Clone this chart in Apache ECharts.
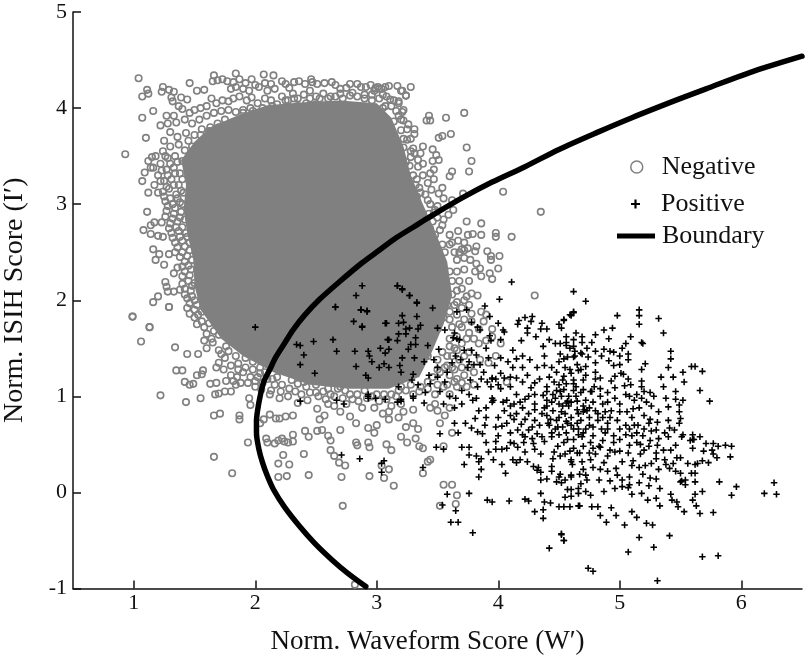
<!DOCTYPE html>
<html><head><meta charset="utf-8">
<style>html,body{margin:0;padding:0;background:#fff}#c{width:806px;height:660px}</style>
<script src="https://cdn.jsdelivr.net/npm/echarts@6/dist/echarts.min.js"></script>
</head><body><div id="c"></div>
<script>
const xTicks=[1,2,3,4,5,6];
const yTicks=[-1,0,1,2,3,4,5];
// Outline of the region where negative markers merge into solid grey
const negativeCoreOutline=[[1.55,1.9],[1.50,2.15],[1.49,2.42],[1.44,2.7],[1.41,2.94],[1.43,3.2],[1.39,3.46],[1.5,3.65],[1.63,3.8],[1.85,3.92],[2.1,4.03],[2.4,4.06],[2.7,4.08],[3.0,4.05],[3.12,3.9],[3.22,3.6],[3.28,3.3],[3.38,3.0],[3.47,2.75],[3.58,2.4],[3.62,2.05],[3.55,1.75],[3.45,1.45],[3.35,1.2],[3.1,1.08],[2.78,1.08],[2.45,1.12],[2.15,1.25],[1.9,1.42],[1.72,1.6]];
// x,y pairs, flat
const negativeFlat=[
1.04,4.31,1.11,4.19,1.12,4.15,1.07,4.12,1.16,3.97,1.07,3.90,1.10,3.69,.93,3.52,1.12,3.45,1.15,3.49,1.18,3.50,1.14,3.38,1.16,3.38,1.09,3.33,1.07,3.24,1.17,3.20,1.12,3.12,1.20,3.12,1.11,2.92,1.14,2.78,1.17,2.81,1.23,2.81,1.08,2.73,1.14,2.69,1.20,2.67,1.24,2.66,1.16,2.53,1.21,2.48,1.29,2.48,1.18,2.42,1.25,2.37,1.36,2.34,1.33,2.28,1.26,2.19,1.27,2.14,1.28,2.09,1.33,2.09,1.38,2.11,1.20,2.04,1.16,1.98,1.29,1.93,.99,1.83,1.13,1.72,
1.66,4.34,1.84,4.36,2.07,4.35,2.15,4.34,1.46,4.26,1.52,4.18,1.58,4.19,1.65,4.28,1.69,4.29,1.73,4.30,1.24,4.22,1.23,4.17,1.29,4.19,1.33,4.17,1.31,4.11,1.39,4.11,1.44,4.09,1.32,4.07,1.37,4.02,1.27,3.92,1.33,3.92,1.22,3.82,1.28,3.84,1.77,4.28,1.82,4.27,1.87,4.30,1.92,4.26,1.97,4.30,2.0,4.24,1.80,4.2,1.84,4.22,1.9,4.2,1.95,4.18,2.03,4.22,2.08,4.26,2.13,4.25,2.1,4.18,2.16,4.2,2.22,4.28,2.25,4.25,2.28,4.21,2.32,4.27,2.36,4.28,2.41,4.25,2.46,4.3,2.47,4.27,2.51,4.25,2.57,4.26,2.63,4.27,2.66,4.24,2.7,4.2,2.75,4.21,2.78,4.25,2.84,4.25,2.87,4.22,2.91,4.22,2.95,4.24,3.01,4.22,2.98,4.18,3.04,4.2,3.1,4.23,3.17,4.23,3.2,4.18,3.24,4.13,
1.4,3.99,1.46,3.95,1.5,3.98,1.55,4.0,1.6,4.02,1.64,4.1,1.68,4.05,1.73,4.08,1.78,4.07,1.82,4.1,1.87,4.12,1.93,4.08,1.97,4.11,2.02,4.05,2.08,4.1,2.13,4.08,2.18,4.04,2.22,4.12,2.27,4.08,2.31,4.15,2.35,4.1,2.4,4.14,2.45,4.18,2.5,4.12,2.56,4.15,2.6,4.1,2.66,4.12,2.72,4.1,2.78,4.13,2.84,4.12,2.9,4.1,2.96,4.08,3.02,4.1,3.08,4.12,3.14,4.08,3.18,4.05,3.22,3.98,3.18,3.92,
1.35,3.85,1.42,3.88,1.48,3.84,1.54,3.88,1.6,3.92,1.66,3.95,1.72,3.97,1.78,3.98,1.84,3.96,1.9,3.98,1.96,4.0,2.02,3.95,2.08,3.97,2.14,3.96,2.2,3.95,2.28,3.96,2.35,4.02,2.42,4.05,2.5,4.04,1.3,3.75,1.36,3.7,1.43,3.74,1.5,3.72,1.56,3.78,1.63,3.8,1.69,3.84,1.75,3.88,1.81,3.85,1.87,3.82,1.93,3.85,2.0,3.84,2.06,3.86,1.25,3.66,1.3,3.6,1.37,3.62,1.42,3.56,1.48,3.6,1.54,3.62,1.6,3.68,1.66,3.7,1.72,3.74,1.78,3.72,1.84,3.74,1.9,3.7,
1.24,3.55,1.28,3.48,1.34,3.5,1.4,3.45,1.22,3.42,1.27,3.36,1.33,3.38,1.38,3.32,1.2,3.3,1.25,3.24,1.31,3.26,1.37,3.2,1.24,3.13,1.29,3.16,1.35,3.1,1.41,3.12,1.26,3.03,1.32,3.0,1.38,3.02,1.27,2.93,1.33,2.9,1.39,2.92,1.3,2.8,1.36,2.82,1.42,2.84,1.31,2.7,1.37,2.72,1.43,2.7,1.34,2.6,1.4,2.62,1.46,2.6,1.34,2.5,1.4,2.5,1.46,2.52,1.42,2.4,1.48,2.42,1.42,2.3,1.47,2.32,1.45,2.2,1.5,2.18,1.42,2.12,1.47,2.1,1.44,2.02,1.5,2.0,1.44,1.92,1.5,1.9,1.56,1.88,1.5,1.82,1.56,1.78,1.62,1.76,1.68,1.74,1.74,1.72,1.8,1.68,
1.26,3.5,1.3,3.42,1.36,3.44,1.23,3.35,1.28,3.3,1.34,3.32,1.4,3.26,1.22,3.24,1.27,3.18,1.33,3.2,1.39,3.14,1.25,3.08,1.3,3.06,1.36,3.06,1.4,3.0,1.28,2.98,1.34,2.96,1.26,2.87,1.32,2.85,1.38,2.86,1.29,2.75,1.35,2.76,1.4,2.76,1.32,2.65,1.38,2.66,1.44,2.66,1.36,2.55,1.42,2.56,1.38,2.45,1.44,2.46,1.4,2.35,1.45,2.36,1.4,2.25,1.46,2.26,1.4,2.17,1.48,2.15,1.42,2.06,1.48,2.04,1.46,1.97,1.52,1.95,1.46,1.86,1.53,1.85,1.52,1.75,1.58,1.72,1.6,1.65,1.66,1.68,1.7,1.64,1.58,1.58,1.64,1.6,
1.45,3.66,1.55,3.72,1.62,3.76,1.7,3.8,1.78,3.82,1.9,3.95,1.98,3.97,2.06,4.0,2.14,4.02,2.25,4.08,2.32,4.1,2.45,4.1,2.53,4.1,2.62,4.12,2.7,4.15,2.8,4.16,2.9,4.14,2.96,4.14,3.05,4.14,3.12,4.02,3.16,3.97,3.2,3.88,3.25,3.78,3.28,3.68,3.3,3.58,3.34,3.46,3.38,3.42,
.99,1.83,1.13,1.72,1.06,1.57,1.29,1.93,1.34,1.51,1.44,1.44,1.53,1.44,1.35,1.27,1.40,1.27,1.57,1.27,1.42,1.15,1.46,1.12,1.49,1.13,1.52,1.22,1.56,1.23,1.63,1.13,1.68,1.14,1.22,1.01,1.55,.98,1.43,.94,1.67,1.02,1.7,1.03,1.75,1.05,1.8,1.05,1.84,1.12,1.66,.8,1.71,.82,1.87,.76,1.87,.8,1.95,.98,1.96,.91,1.66,.37,1.81,.2,1.94,.52,2.09,.56,2.1,.52,2.16,.51,2.22,.56,2.19,.54,2.24,.53,2.27,.52,2.31,.6,2.31,.53,2.07,.76,2.04,.72,2.12,.81,2.17,.77,2.2,.77,2.25,.79,2.31,.8,2.19,.3,2.23,.39,2.28,.29,2.4,.4,2.44,.18,2.19,.16,2.26,.17,2.62,.44,2.65,.38,2.69,.31,2.74,.28,2.71,.16,2.72,-.14,2.82,-.96,2.41,.64,2.44,.58,2.6,.59,2.62,.54,2.51,.64,2.55,.65,2.51,.87,2.57,.8,2.53,.76,2.7,.84,2.7,.65,2.78,.79,2.83,.72,2.83,.52,2.84,.49,2.93,.52,2.94,.47,2.94,.17,2.93,.67,
2.0,1.1,2.05,1.07,2.13,1.06,2.21,1.05,2.28,1.08,2.35,1.13,2.42,1.1,2.5,1.04,2.56,1.05,2.62,1.02,2.68,1.08,2.74,1.06,2.8,.97,2.85,.95,2.9,1.06,2.96,1.0,3.02,.95,3.08,.97,3.12,.9,3.16,1.0,3.2,.92,1.85,1.2,1.9,1.25,1.96,1.2,2.02,1.2,2.08,1.25,2.14,1.18,2.22,1.12,2.3,1.17,2.4,1.15,2.5,1.12,2.6,1.08,2.7,1.1,1.7,1.35,1.75,1.4,1.8,1.32,1.86,1.34,1.92,1.4,1.98,1.36,2.04,1.3,2.1,1.34,1.6,1.5,1.65,1.56,1.7,1.48,1.76,1.52,1.82,1.56,1.88,1.5,
1.72,1.44,1.78,1.47,1.84,1.42,1.68,1.3,1.74,1.28,1.8,1.22,1.86,1.28,1.92,1.3,1.98,1.28,2.04,1.24,2.1,1.18,2.16,1.12,2.18,1.2,1.76,1.16,1.82,1.16,1.88,1.14,1.94,1.14,2.0,1.16,2.06,1.14,2.12,1.02,2.2,.98,2.27,1.0,2.33,1.05,2.38,1.02,2.45,1.04,2.52,1.0,2.58,.97,2.65,1.0,2.72,.98,2.78,1.02,2.84,1.02,2.92,.98,3.0,1.02,3.06,1.02,3.12,1.02,3.18,1.06,3.24,1.06,3.3,1.02,3.36,1.1,2.35,.93,2.43,.96,2.6,.92,2.65,.9,2.75,.92,2.88,.88,2.98,.88,3.1,.84,3.22,.84,3.3,.86,
3.28,1.12,3.35,1.05,3.42,1.08,3.48,1.02,3.55,1.1,3.6,1.02,3.66,1.1,3.2,1.1,3.05,.82,3.1,.76,3.18,.78,3.24,.68,3.3,.72,3.34,.66,3.0,.7,2.98,.62,3.08,.5,3.12,.44,3.2,.58,3.25,.52,3.32,.56,3.35,.48,3.38,.46,3.44,.88,3.48,.92,3.5,.85,3.6,.88,3.62,.62,3.38,.2,3.44,.34,3.55,.08,3.62,.08,3.52,-.14,3.65,-.12,3.66,-.03,3.42,.32,3.14,.07,3.1,.24,3.06,.15,3.04,.28,3.55,.48,3.52,.72,3.56,.8,
3.32,1.6,3.4,1.52,3.42,1.42,3.5,1.38,3.54,1.46,3.6,1.52,3.58,1.32,3.64,1.28,3.68,1.38,3.72,1.42,3.76,1.46,3.66,1.62,3.62,1.72,3.7,1.72,3.76,1.66,3.8,1.6,3.84,1.55,3.9,1.58,3.95,1.62,4.02,1.55,3.85,1.38,3.92,1.35,3.98,1.42,3.8,1.25,3.72,1.22,3.66,1.18,3.6,1.22,3.52,1.25,3.46,1.2,3.74,1.1,3.8,1.12,4.07,1.15,4.3,2.05,
3.6,1.6,3.64,1.5,3.7,1.55,3.74,1.6,3.58,1.42,3.62,1.42,3.66,1.48,3.5,1.28,3.56,1.3,3.62,1.3,3.7,1.3,3.76,1.3,3.42,1.15,3.5,1.12,3.58,1.12,3.64,1.15,3.7,1.14,3.6,1.8,3.66,1.85,3.72,1.8,3.78,1.78,3.84,1.7,3.68,1.75,3.64,1.95,3.7,1.92,3.76,1.95,
3.86,1.88,3.78,1.86,3.72,2.0,3.66,1.98,3.6,1.88,3.55,1.82,3.5,1.7,3.58,1.95,3.62,2.06,3.7,2.12,3.78,2.07,3.83,2.05,3.62,2.2,3.56,2.15,3.88,1.78,3.9,1.85,3.95,1.7,
3.43,3.92,3.72,3.95,3.57,3.9,3.44,3.87,3.41,3.87,3.61,3.73,3.54,3.71,3.51,3.69,3.74,3.59,3.38,3.6,3.46,3.57,3.78,3.45,3.49,3.51,3.51,3.46,3.46,3.45,3.34,3.39,3.76,3.34,3.62,3.34,3.6,3.29,3.47,3.36,3.44,3.32,3.47,3.26,3.33,3.26,3.42,3.22,3.54,3.17,3.51,3.11,3.55,3.06,3.71,3.11,4.04,3.13,4.35,2.92,3.62,3.04,3.63,2.94,3.74,2.82,3.86,2.8,3.59,2.89,3.55,2.84,3.52,2.73,3.67,2.72,3.75,2.68,3.79,2.69,3.86,2.68,3.98,2.7,3.98,2.66,4.11,2.66,3.67,2.62,3.72,2.6,3.7,2.53,3.75,2.54,3.82,2.56,3.81,2.51,3.91,2.51,3.94,2.46,4.01,2.46,3.94,2.42,3.77,2.42,3.85,2.33,3.93,2.28,4.0,2.33,3.86,2.25,3.81,2.3,3.95,2.22,3.82,2.38,3.68,2.5,3.6,2.58,3.72,2.52,
3.28,4.22,3.07,4.22,3.02,4.2,2.99,4.21,3.21,4.18,3.24,4.13,3.11,4.09,3.18,4.07,3.21,3.96,3.05,4.0,3.07,4.02,3.14,3.86,3.22,3.87,3.26,3.83,3.31,3.78,3.2,3.77,3.31,3.73,3.22,3.68,3.25,3.67,3.15,3.63,3.22,3.59,3.28,3.55,3.31,3.53,3.36,3.53,3.28,3.49,3.24,3.44,3.17,3.48,3.17,3.3,3.2,3.24,3.25,3.19,3.35,3.17,3.4,3.1,3.33,3.08,3.44,3.0,3.29,2.98,3.5,2.98,3.43,2.9,3.46,2.82,3.47,2.91,3.3,3.3,3.38,3.3,3.45,3.15,3.27,3.4,
3.32,3.2,3.36,3.12,3.42,3.04,3.48,2.94,3.5,2.86,3.54,2.78,3.6,2.68,3.62,2.6,3.64,2.5,3.66,2.42,3.72,2.44,3.66,2.3,3.72,2.32,3.76,2.2,3.68,2.2,3.66,2.1,3.74,2.04,3.6,2.3,3.56,2.5,3.54,2.58,3.48,2.68,3.44,2.74
];
const positiveFlat=[
4.11,2.19,3.17,2.15,3.21,2.12,3.27,2.05,4.01,2.01,3.33,1.98,3.89,1.94,3.46,1.92,3.66,1.88,3.74,1.90,2.87,1.90,2.92,1.88,3.93,1.83,3.33,1.83,4.28,1.83,4.22,1.82,4.17,1.79,4.27,1.78,4.16,1.75,3.08,1.76,3.22,1.77,3.36,1.74,2.88,1.73,3.78,1.77,4.0,1.76,4.36,1.76,4.5,1.75,4.62,1.87,4.59,1.85,4.54,1.79,4.24,1.71,4.35,1.70,4.4,1.70,4.52,1.71,4.04,1.69,4.05,1.67,3.83,1.72,3.85,1.69,3.50,1.71,3.24,1.70,3.18,1.65,3.32,1.61,3.10,1.59,3.28,1.54,3.42,1.53,3.51,1.49,2.93,1.47,3.10,1.49,2.94,1.42,3.21,1.40,3.31,1.40,3.47,1.38,3.56,1.69,3.64,1.66,3.66,1.60,3.68,1.59,3.63,1.61,3.93,1.63,3.94,1.58,4.02,1.59,4.24,1.66,4.31,1.62,4.19,1.58,4.42,1.59,4.47,1.55,4.62,1.59,4.56,1.56,4.51,1.55,4.37,1.52,4.69,1.62,4.62,1.52,4.68,1.45,4.59,1.5,
3.78,1.48,3.82,1.43,3.76,1.36,3.72,1.48,3.8,1.33,3.85,1.33,3.75,1.3,3.69,1.38,4.12,1.48,4.15,1.39,4.02,1.4,3.92,1.4,3.97,1.32,4.12,1.3,4.38,1.32,4.38,1.42,4.51,1.44,4.54,1.39,4.62,1.41,4.8,1.35,3.98,1.18,3.95,1.19,3.95,1.18,4.05,1.19,4.15,1.19,4.24,1.22,4.3,1.14,4.42,1.2,4.48,1.25,4.54,1.21,4.62,1.17,4.68,1.04,3.77,1.17,3.83,1.1,3.91,1.15,3.94,1.1,4.0,1.12,4.1,1.1,4.2,1.15,4.27,1.09,4.37,1.01,4.51,1.05,4.64,1.0,4.77,1.05,3.29,1.17,3.34,1.12,3.52,1.05,3.6,1.0,3.76,1.02,3.82,.98,3.95,.98,4.07,.96,4.13,.92,4.22,.97,4.3,1.02,4.4,.96,4.53,.9,4.6,.94,4.75,.88,
3.4,1.04,3.3,1.0,3.2,.95,3.39,.93,3.55,.92,3.65,.98,3.7,.92,3.79,.96,3.96,.96,3.95,.94,3.84,.85,3.81,.77,3.73,.72,3.89,.7,3.87,.61,3.78,.67,3.83,.63,3.67,.62,3.52,.61,4.0,.59,3.98,.53,4.03,.69,4.07,.72,4.13,.76,4.16,.65,4.19,.71,4.25,.65,4.32,.61,4.41,.72,4.49,.68,4.57,.72,4.65,.72,3.98,.45,4.03,.45,4.07,.46,4.13,.51,4.16,.47,4.21,.52,4.29,.51,4.38,.53,4.44,.58,4.49,.48,4.57,.55,4.66,.6,3.49,.47,3.55,.45,3.76,.47,3.7,.47,3.76,.39,3.82,.38,3.86,.35,3.84,.32,3.72,.29,3.96,.34,4.03,.29,4.12,.34,4.15,.31,4.24,.32,4.29,.27,4.33,.26,4.44,.27,4.51,.38,4.6,.34,4.65,.41,3.38,.26,3.04,.21,3.86,.24,3.84,.16,4.06,.2,4.32,.23,4.35,.21,4.44,.22,4.51,.19,4.6,.18,4.67,.19,
4.4,.14,4.35,.13,4.5,.16,4.52,.1,4.48,.11,4.55,.13,4.57,.03,4.6,.03,4.55,-.05,4.6,-.04,4.66,-.01,3.76,-.01,3.58,-.02,4.09,-.09,3.91,-.08,3.95,-.1,4.22,-.07,4.25,-.09,4.35,-.01,4.38,-.1,4.43,-.11,3.54,-.13,3.65,-.19,3.61,-.31,3.67,-.31,3.79,-.42,4.3,-.2,4.37,-.18,4.37,-.27,4.5,-.15,4.59,-.15,4.66,-.14,4.52,-.43,4.54,-.5,4.42,-.58,
3.04,.3,3.06,.33,2.93,1.0,3.39,1.36,3.43,1.22,3.5,1.2,3.58,1.25,3.5,1.3,3.62,1.35,3.65,1.42,3.56,1.15,3.44,1.13,
4.61,.29,4.72,.18,4.84,.47,
4.62,2.09,4.72,1.99,5.16,1.9,5.16,1.84,4.98,1.84,5.32,1.81,5.16,1.75,4.62,1.88,4.6,1.84,4.54,1.8,4.94,1.71,4.87,1.69,4.8,1.64,4.64,1.66,5.36,1.66,5.09,1.62,4.91,1.6,5.18,1.56,5.19,1.55,5.05,1.55,4.77,1.56,4.69,1.56,4.56,1.62,5.02,1.5,5.42,1.47,5.42,1.39,5.07,1.44,5.07,1.38,4.92,1.47,4.95,1.46,4.87,1.49,4.8,1.47,4.73,1.5,4.69,1.44,4.63,1.47,4.56,1.53,4.63,1.42,4.57,1.41,4.74,1.41,4.85,1.42,4.91,1.37,5.0,1.42,4.95,1.32,5.0,1.33,4.72,1.31,4.65,1.33,4.59,1.28,5.62,1.31,5.59,1.31,5.68,1.26,5.52,1.25,5.53,1.15,5.21,1.34,5.18,1.28,5.66,1.06,5.46,1.05,5.74,.95,5.46,.97,5.52,.96,5.49,.91,5.49,.84,5.38,.98,5.4,.89,
5.01,1.24,5.03,1.23,4.96,1.21,5.07,1.18,5.04,1.11,5.09,1.12,5.18,1.16,5.18,1.1,5.2,1.05,5.25,1.04,5.28,1.0,5.18,.98,5.12,.96,5.08,1.0,5.05,1.02,4.96,1.09,4.93,1.16,4.84,1.19,4.84,1.08,4.79,1.1,4.84,1.0,4.7,1.17,4.62,1.13,4.53,1.17,4.54,1.07,4.62,1.06,4.76,1.05,4.72,.96,4.9,1.04,4.96,.98,4.56,.93,4.57,.95,4.71,.86,4.65,.86,4.73,.85,4.8,.85,4.88,.84,4.93,.85,5.0,.84,5.06,.84,5.11,.87,5.25,.76,5.24,.72,5.31,.73,5.4,.75,5.5,.77,5.49,.72,5.41,.67,5.37,.62,5.45,.65,5.51,.58,5.4,.58,5.3,.65,5.25,.54,5.19,.59,5.1,.59,5.05,.6,4.95,.59,4.88,.62,4.78,.59,4.69,.58,
5.6,.6,5.66,.58,5.61,.55,5.6,.55,5.52,.6,5.58,.54,5.46,.49,5.6,.46,5.71,.51,5.77,.51,5.81,.48,5.87,.49,5.92,.48,5.91,.37,5.76,.44,5.69,.43,5.77,.4,5.8,.36,5.68,.33,5.73,.31,5.64,.3,5.5,.36,5.47,.36,5.56,.3,5.62,.29,5.31,.49,5.3,.41,5.3,.35,5.24,.48,5.17,.5,5.08,.49,5.07,.41,5.17,.4,5.0,.43,4.92,.44,4.83,.48,4.75,.41,4.67,.41,4.59,.43,4.6,.32,4.69,.32,4.78,.26,4.87,.31,4.97,.25,5.02,.32,5.11,.33,5.21,.28,5.26,.3,5.37,.34,5.38,.29,5.46,.22,5.5,.2,5.59,.2,5.51,.12,5.41,.25,5.32,.24,5.25,.15,5.19,.19,5.02,.13,5.08,.16,4.92,.12,4.83,.13,4.73,.13,4.68,.09,4.6,.16,
5.5,.11,5.54,.13,5.54,.08,5.62,.2,5.62,.11,5.82,.11,5.96,.06,6.27,.1,6.19,-.01,6.29,-.02,5.92,-.03,5.68,.01,5.62,-.02,5.42,-.02,5.33,.04,5.24,.07,5.18,-.01,5.1,-.02,5.07,.05,5.02,.06,4.96,.04,4.87,.01,4.76,-.03,4.72,.01,4.66,.04,5.23,-.08,5.3,-.06,5.33,-.14,5.43,-.08,5.47,-.1,5.48,-.15,5.6,-.08,5.63,-.14,5.66,-.22,5.53,-.2,5.77,-.21,4.93,-.16,4.82,-.15,4.77,-.15,4.67,-.14,4.54,-.15,4.84,-.24,4.97,-.24,5.1,-.2,5.14,-.26,4.89,-.31,5.04,-.34,5.22,-.32,5.27,-.34,5.16,-.47,5.41,-.45,4.52,-.44,4.54,-.5,5.28,-.57,5.07,-.62,5.68,-.67,5.81,-.66,4.74,-.79,4.78,-.82,5.31,-.92,
4.4,.8,4.45,.85,4.5,.78,4.55,.82,4.6,.78,4.42,.7,4.48,.75,4.53,.68,4.62,.66,4.68,.75,4.75,.7,4.82,.75,4.4,.9,4.47,.98,4.52,1.0,4.58,.9,4.65,.95,4.7,.9,4.4,1.1,4.46,1.15,4.5,1.12,4.4,1.05,4.44,.62,4.5,.6,4.56,.62,4.62,.55,4.7,.62,4.76,.52,4.9,.72,4.98,.75,5.05,.7,4.9,.66,4.95,.52,5.0,.55,4.8,.4,4.9,.38,4.55,.4,4.46,.42,4.45,.35,4.3,.75,4.36,.82,4.3,.86,4.25,.82,4.2,.88,4.3,.92,4.25,1.0,4.15,1.02,4.15,.82,4.05,.85,4.1,.8,4.0,.78,4.2,.6,4.1,.62,4.3,.45,4.22,.42,4.55,1.3,4.72,1.22,4.66,1.27,4.8,1.25,4.86,.92,5.0,.92,5.1,.78,5.15,.7,4.75,.78,4.85,.66,4.35,.4,
4.48,1.06,4.44,.94,4.5,.92,4.43,.76,4.52,.84,4.47,.66,4.56,.74,4.6,.7,4.66,.82,4.7,.84,4.78,.94,4.82,.82,4.58,1.0,4.64,1.1,4.7,1.07,4.45,1.02,4.38,.88,4.34,.7,4.28,.68,4.22,.76,4.18,.94,4.1,.9,4.04,.94,4.36,.58,4.28,.56,4.22,.58,4.54,.52,4.62,.46,4.7,.48,4.78,.46,4.86,.54,4.92,.78,4.86,.78,5.0,.66,5.08,.66,5.14,.62,4.9,.94,4.78,.68,4.72,.66,4.66,.66,4.8,1.18,4.56,1.13,4.68,1.28,4.6,1.24,4.5,1.36,4.44,1.3,4.32,1.3,4.26,1.38,4.2,1.42,4.08,1.36,4.02,1.24,4.34,1.18,4.1,1.2,4.2,1.3,
5.14,1.02,5.22,.94,5.16,.88,5.26,.9,5.32,.84,5.2,.8,5.12,.7,5.2,.66,5.26,.64,5.32,.56,5.14,.52,5.2,.44,5.1,.28,5.16,.26,4.96,.42,4.84,.24,4.76,.34,4.7,.24,5.42,.44,5.36,.44,5.44,.3,5.3,.14,5.16,.1,5.08,.08,4.98,.18,4.9,.22,5.36,1.1,5.44,1.2,5.34,1.2,5.4,1.3,
3.9,1.5,3.88,1.25,3.86,1.18,3.7,1.06,3.64,.88,3.9,.88,4.02,1.08,3.9,.78,3.98,.68,4.1,.52,3.9,.52,3.92,.42,3.64,.72,4.18,.34,
2.0,1.72,2.34,1.54,2.37,1.53,2.48,1.57,2.64,1.59,2.40,1.43,2.67,1.47,2.82,1.47,2.37,1.33,2.49,1.24,2.83,1.31,2.93,1.19,2.37,.95,2.67,.96,2.73,.92,2.93,.98,2.71,.39,2.86,.35,2.66,1.93,2.87,1.90,2.92,1.89,2.81,1.78,2.88,1.72,
2.88,2.15,2.83,2.05,2.66,1.93,3.07,1.76,3.18,1.76,3.17,2.15,3.21,2.11,3.27,2.05,3.21,1.84,3.33,1.97,3.27,1.71,3.24,1.65,3.34,1.7,3.17,1.58,3.32,1.54,3.09,1.59,3.26,1.49,3.07,1.45,3.03,1.5,2.96,1.36,3.06,1.34,3.1,1.3,3.19,1.32,3.3,1.23,3.2,1.25,3.02,1.3,2.91,1.22,3.18,1.1,2.93,1.02,2.99,.98,3.17,.94,3.07,.97,3.2,.97,3.3,.98
];
const boundaryX=[6.50,6.07,5.71,5.48,5.10,4.82,4.50,4.22,3.95,3.71,3.44,3.30,3.16,3.02,2.88,2.70,2.53,2.41,2.31,2.24,2.17,2.12,2.07,2.04,2.02,2.01,2.01,2.03,2.06,2.10,2.15,2.24,2.37,2.49,2.63,2.76,2.91];
const boundaryY=[4.54,4.37,4.20,4.09,3.90,3.75,3.57,3.39,3.23,3.07,2.87,2.76,2.65,2.52,2.39,2.20,2.01,1.85,1.69,1.55,1.41,1.28,1.15,1.00,.86,.74,.62,.45,.31,.17,.03,-.15,-.36,-.53,-.70,-.84,-.98];

function pairs(flat){const o=[];for(let i=0;i+1<flat.length;i+=2)o.push([flat[i],flat[i+1]]);return o;}
const negativePoints=pairs(negativeFlat);
const positivePoints=pairs(positiveFlat);
const boundary=boundaryX.map((x,i)=>[x,boundaryY[i]]);
const GREY='#808080',FONT='"Liberation Serif","Times New Roman",serif';
const PLUS='path://M3.8 0h2.4v3.8h3.8v2.4h-3.8v3.8h-2.4v-3.8h-3.8v-2.4h3.8z';
const axisCommon={axisLine:{onZero:false,lineStyle:{color:'#111',width:1.5}},
  axisTick:{inside:true,length:8,lineStyle:{color:'#111',width:1.5}},
  splitLine:{show:false},nameLocation:'middle'};
const chart=echarts.init(document.getElementById('c'),null,{renderer:'canvas'});
chart.setOption({
  animation:false,backgroundColor:'#fff',
  grid:{left:73,right:4,top:12,bottom:71.5,containLabel:false,outerBoundsMode:'none'},
  xAxis:Object.assign({},axisCommon,{type:'value',min:.5,max:6.5,name:'Norm. Waveform Score (W′)',nameGap:40,
    nameTextStyle:{fontFamily:FONT,fontSize:27,color:'#111',padding:[0,20,0,0]},
    axisLabel:{customValues:xTicks,fontFamily:FONT,fontSize:22,color:'#111',margin:4,formatter:v=>String(v)},
    axisTick:Object.assign({},axisCommon.axisTick,{customValues:xTicks})}),
  yAxis:Object.assign({},axisCommon,{type:'value',min:-1,max:5,name:'Norm. ISIH Score (I′)',nameGap:44,
    nameTextStyle:{fontFamily:FONT,fontSize:28,color:'#111'},
    axisLabel:{customValues:yTicks,fontFamily:FONT,fontSize:22,color:'#111',margin:6,formatter:v=>String(v)},
    axisTick:Object.assign({},axisCommon.axisTick,{customValues:yTicks})}),
  legend:[
    {data:[{name:'Negative',icon:'circle'}],left:625,top:149,itemWidth:12,itemHeight:12,itemGap:0,
     itemStyle:{color:'rgba(0,0,0,0)',borderColor:GREY,borderWidth:1.5},textStyle:{fontFamily:FONT,fontSize:26,color:'#111',padding:[0,0,0,14]}},
    {data:[{name:'Positive',icon:PLUS}],left:626,top:186,itemWidth:9,itemHeight:9,itemGap:0,
     textStyle:{fontFamily:FONT,fontSize:26,color:'#111',padding:[0,0,0,16]}},
    {data:[{name:'Boundary',icon:'rect'}],left:612,top:218,itemWidth:38,itemHeight:5,itemGap:0,
     itemStyle:{color:'#000'},textStyle:{fontFamily:FONT,fontSize:26,color:'#111',padding:[0,0,0,2]}}
  ],
  series:[
    {name:'Negative',type:'custom',silent:true,z:1,coordinateSystem:'cartesian2d',
     data:negativeCoreOutline,encode:{x:0,y:1},
     renderItem:(p,api)=>{ if(p.dataIndex!==0) return null;
       return {type:'polygon',shape:{points:negativeCoreOutline.map(q=>api.coord(q))},style:{fill:GREY}};}},
    {name:'Negative',type:'scatter',z:2,data:negativePoints,symbol:'circle',symbolSize:6.5,
     itemStyle:{color:'rgba(0,0,0,0)',borderColor:GREY,borderWidth:1.6,opacity:1}},
    {name:'Positive',type:'scatter',z:3,data:positivePoints,symbol:PLUS,symbolSize:6.5,itemStyle:{color:'#000',opacity:1}},
    {name:'Boundary',type:'line',z:4,data:boundary,smooth:.3,showSymbol:false,symbol:'none',lineStyle:{color:'#000',width:5.5,cap:'round'},itemStyle:{color:'#000'}}
  ]
});
</script></body></html>
